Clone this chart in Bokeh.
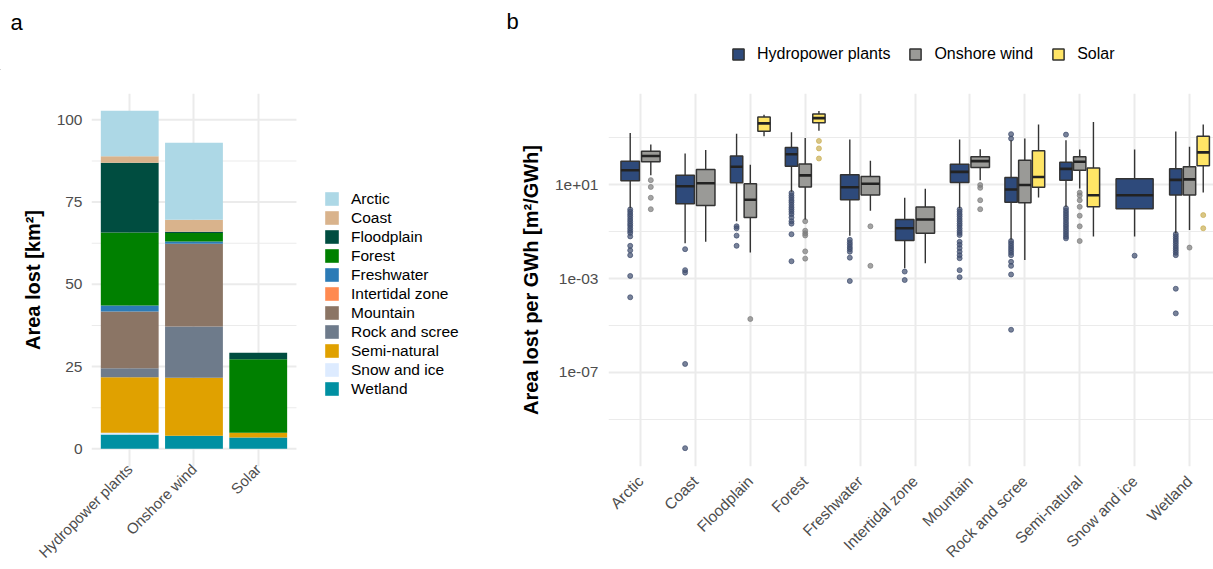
import math
from bokeh.plotting import figure
from bokeh.models import (Range1d, FixedTicker, Legend, LegendItem, Label,
                          ColumnDataSource, CustomJSTickFormatter)
from bokeh.layouts import row, column
from bokeh.embed import file_html
from bokeh.resources import INLINE

FONT = "Liberation Sans"
TICK_COLOR = "#4D4D4D"
GRID = "#EBEBEB"

# ---------------- data: panel a ----------------
techs = ["Hydropower plants", "Onshore wind", "Solar"]
habitats = ["Arctic", "Coast", "Floodplain", "Forest", "Freshwater", "Intertidal zone",
            "Mountain", "Rock and scree", "Semi-natural", "Snow and ice", "Wetland"]
habitat_colors = ["#ADD8E6", "#D9B38C", "#004D40", "#008000", "#2C7BB6", "#FF8A50",
                  "#8B7565", "#6E7B8B", "#E0A100", "#DDEBFF", "#0090A2"]
# area lost [km2], in habitat order
area_hydro = [13.8, 2.0, 21.2, 22.2, 1.8, 0.0, 17.3, 2.7, 16.9, 0.5, 4.35]
area_wind = [23.4, 3.6, 0.4, 2.6, 0.7, 0.0, 25.1, 15.6, 17.6, 0.0, 4.0]
area_solar = [0.0, 0.0, 2.0, 22.3, 0.0, 0.0, 0.0, 0.0, 1.5, 0.0, 3.4]
y_ticks_a = [0, 25, 50, 75, 100]
y_minor_a = [12.5, 37.5, 62.5, 87.5]

# ---------------- data: panel b ----------------
tech_colors = ["#2E4A7B", "#9A9A97", "#FFE566"]
outlier_colors = ["#3F4D6E", "#7E7E7E", "#C9AE52"]
box_cat = ["Arctic", "Arctic", "Coast", "Coast", "Floodplain", "Floodplain", "Floodplain",
           "Forest", "Forest", "Forest", "Freshwater", "Freshwater",
           "Intertidal zone", "Intertidal zone", "Mountain", "Mountain",
           "Rock and scree", "Rock and scree", "Rock and scree",
           "Semi-natural", "Semi-natural", "Semi-natural", "Snow and ice",
           "Wetland", "Wetland", "Wetland"]
box_tech = ["Hydropower plants", "Onshore wind", "Hydropower plants", "Onshore wind",
            "Hydropower plants", "Onshore wind", "Solar",
            "Hydropower plants", "Onshore wind", "Solar",
            "Hydropower plants", "Onshore wind", "Hydropower plants", "Onshore wind",
            "Hydropower plants", "Onshore wind",
            "Hydropower plants", "Onshore wind", "Solar",
            "Hydropower plants", "Onshore wind", "Solar", "Hydropower plants",
            "Hydropower plants", "Onshore wind", "Solar"]
box_lo = [1.0, 25.7, 0.032, 0.037, 0.28, 0.013, 1175, 5.0, 0.33, 2000, 0.068, 0.78,
          0.0028, 0.0045, 1.0, 15.8, 0.045, 0.0062, 2.9, 1.15, 6.9, 0.062, 0.062,
          0.085, 0.117, 4.7]
box_q1 = [14.8, 95.5, 1.55, 1.3, 12.3, 0.40, 1905, 61.7, 8.1, 4470, 2.3, 3.7,
          0.042, 0.085, 12.6, 55, 1.78, 1.7, 7.8, 15.8, 41.7, 1.15, 0.95,
          3.7, 3.7, 64.6]
box_med = [41.7, 170, 8.7, 11.7, 58.9, 2.3, 4170, 200, 25.1, 6920, 7.9, 11.0,
           0.14, 0.33, 35.5, 102, 6.3, 9.8, 21.4, 47.9, 95.5, 3.6, 3.6,
           16.2, 17.0, 240]
box_q3 = [102, 269, 25.7, 44.7, 170, 11.0, 7760, 389, 77.6, 10470, 26.9, 22.4,
          0.33, 1.12, 75.9, 155, 20.4, 110, 282, 91.2, 155, 52.5, 18.2,
          47.9, 58.9, 1175]
box_hi = [1620, 525, 214, 302, 1510, 70.8, 9770, 1740, 1000, 14125, 851, 105,
          2.8, 6.8, 851, 331, 794, 933, 3715, 794, 316, 4790, 316,
          1860, 417, 3715]
box_outliers = [
    [0.89, 0.71, 0.56, 0.45, 0.35, 0.28, 0.22, 0.18, 0.14, 0.11, 0.089, 0.063,
     0.025, 0.016, 0.01, 0.0013, 0.00016],
    [15.8, 8.1, 2.8, 0.91],
    [0.018, 0.0023, 0.0018, 2.3e-7, 5.9e-11],
    [],
    [0.17, 0.14, 0.068, 0.025],
    [1.9e-5],
    [],
    [4.5, 3.5, 2.8, 2.2, 1.8, 1.4, 1.1, 0.89, 0.71, 0.56, 0.40, 0.28, 0.22, 0.078, 0.0055],
    [0.28, 0.11, 0.085, 0.069, 0.0145, 0.0071],
    [741, 355, 132],
    [0.045, 0.035, 0.028, 0.022, 0.018, 0.014, 0.0078, 0.00079],
    [0.17, 0.0035],
    [0.002, 0.00087],
    [],
    [0.89, 0.71, 0.56, 0.45, 0.35, 0.28, 0.22, 0.18, 0.14, 0.11, 0.089, 0.072,
     0.037, 0.028, 0.02, 0.014, 0.01, 0.0074, 0.0023, 0.00115],
    [9.8, 7.4, 2.2, 0.91],
    [1445, 933, 0.04, 0.032, 0.025, 0.02, 0.016, 0.0126, 0.01, 0.0052, 0.0035, 0.0015, 6.6e-6],
    [],
    [],
    [1380, 1.0, 0.79, 0.63, 0.5, 0.4, 0.32, 0.25, 0.2, 0.16, 0.126, 0.1, 0.079, 0.063, 0.052],
    [4.6, 3.5, 2.2, 1.15, 0.48, 0.17, 0.04],
    [],
    [0.0095],
    [0.079, 0.063, 0.05, 0.04, 0.032, 0.025, 0.02, 0.016, 0.0126, 0.01, 0.00037, 3.3e-5],
    [0.021],
    [0.51, 0.14],
]
y_ticks_b = [1e-7, 1e-3, 1e1]
y_minor_b = [1e-9, 1e-5, 1e-1, 1e3]

HEADER_H = 70
FIG_H = 499
TOP_B = 23
BOTTOM_B = 103

# ================= header: panel letters and panel-b legend =================
p0 = figure(x_range=Range1d(0, 1213), y_range=Range1d(0, HEADER_H),
            width=1213, height=HEADER_H, min_border=0,
            x_axis_location=None, y_axis_location=None,
            output_backend="svg", toolbar_location=None)
p0.outline_line_color = None
p0.grid.visible = False
# legend proxies: one key glyph per technology, kept outside the visible header area
leg_rends = {}
for t, fc in zip(techs, tech_colors):
    leg_rends[t] = p0.vbar(x=[-100], width=1, top=[-100], bottom=[-101], fill_color=fc,
                           line_color="#333333", line_width=1.5)
leg_b = Legend(items=[LegendItem(label=t, renderers=[leg_rends[t]]) for t in techs],
               location=(731, 7), orientation="horizontal", padding=0, margin=0,
               spacing=18, glyph_width=14, glyph_height=14, label_height=14,
               label_standoff=12,
               label_text_font=FONT, label_text_font_size="16px",
               label_text_color="black", border_line_color=None,
               background_fill_alpha=0)
p0.add_layout(leg_b, "center")
p0.add_layout(Label(x=10, y=48.5, x_units="screen", y_units="screen", text="a",
                    text_font=FONT, text_font_size="22px", text_color="black",
                    text_baseline="alphabetic"))
p0.add_layout(Label(x=506, y=49.5, x_units="screen", y_units="screen", text="b",
                    text_font=FONT, text_font_size="22px", text_color="black",
                    text_baseline="alphabetic"))

# ================= panel a =================
XA_LO = -0.595                       # left end of the panel-a x range
XA_HI_GRID = len(techs) - 1 - XA_LO  # right end of the visible grid (symmetric)
p1 = figure(x_range=Range1d(XA_LO, 5.615), y_range=Range1d(-5.38, 108.0),
            width=498, height=FIG_H, min_border_left=91, min_border_right=8,
            min_border_top=TOP_B, min_border_bottom=BOTTOM_B,
            output_backend="svg", toolbar_location=None)
p1.outline_line_color = None
tech_x = list(range(len(techs)))
stack_order = habitats[::-1]
stack_colors = habitat_colors[::-1]
src_a = {"x": tech_x}
for i, h in enumerate(habitats):
    src_a[h] = [area_hydro[i], area_wind[i], area_solar[i]]
src_a = ColumnDataSource(src_a)

# horizontal grid limited to the bar area
p1.ygrid.grid_line_color = None
p1.ygrid.minor_grid_line_color = None
p1.segment(x0=[XA_LO] * len(y_minor_a), x1=[XA_HI_GRID] * len(y_minor_a),
           y0=y_minor_a, y1=y_minor_a, line_color=GRID, line_width=1.1)
p1.segment(x0=[XA_LO] * len(y_ticks_a), x1=[XA_HI_GRID] * len(y_ticks_a),
           y0=y_ticks_a, y1=y_ticks_a, line_color=GRID, line_width=2)

rends = p1.vbar_stack(stack_order, x="x", width=0.9, fill_color=stack_colors,
                      line_color=None, source=src_a)
rmap = dict(zip(stack_order, rends))

xta = FixedTicker(ticks=tech_x)
p1.xaxis.ticker = xta
p1.xgrid.ticker = xta
p1.xgrid.grid_line_color = GRID
p1.xgrid.grid_line_width = 2
p1.xaxis.major_label_overrides = {i: t for i, t in enumerate(techs)}
p1.xaxis.major_label_orientation = math.pi / 4
p1.xaxis.axis_line_color = None
p1.xaxis.major_tick_line_color = None
p1.xaxis.minor_tick_line_color = None
p1.xaxis.major_tick_out = 0
p1.xaxis.minor_tick_out = 0
p1.xaxis.major_label_standoff = 0
p1.xaxis.major_label_text_font = FONT
p1.xaxis.major_label_text_font_size = "15px"
p1.xaxis.major_label_text_color = TICK_COLOR

yt = FixedTicker(ticks=y_ticks_a, minor_ticks=y_minor_a)
p1.yaxis.ticker = yt
p1.yaxis.axis_line_color = None
p1.yaxis.major_tick_line_color = None
p1.yaxis.minor_tick_line_color = None
p1.yaxis.major_tick_out = 0
p1.yaxis.minor_tick_out = 0
p1.yaxis.major_label_standoff = 9
p1.yaxis.major_label_text_font = FONT
p1.yaxis.major_label_text_font_size = "15.5px"
p1.yaxis.major_label_text_color = TICK_COLOR
p1.yaxis.axis_label = "Area lost [km\u00b2]"
p1.yaxis.axis_label_text_font = FONT
p1.yaxis.axis_label_text_font_size = "20px"
p1.yaxis.axis_label_text_font_style = "bold"
p1.yaxis.axis_label_text_color = "black"
p1.yaxis.axis_label_standoff = 10

leg_a = Legend(items=[LegendItem(label=h, renderers=[rmap[h]]) for h in habitats],
               location=(232, 68.5), orientation="vertical", padding=0, margin=0,
               spacing=1, glyph_width=17, glyph_height=17, label_height=17,
               label_standoff=11,
               label_text_font=FONT, label_text_font_size="15.5px",
               label_text_color="black", border_line_color=None,
               background_fill_alpha=0)
p1.add_layout(leg_a, "center")

# ================= panel b =================
p2 = figure(x_range=Range1d(-0.583, 10.437), y_range=Range1d(10 ** -11.01, 10 ** 4.892),
            y_axis_type="log",
            width=715, height=FIG_H, min_border_left=110, min_border_right=0,
            min_border_top=TOP_B, min_border_bottom=BOTTOM_B,
            output_backend="svg", toolbar_location=None)
p2.outline_line_color = None

cat_x = list(range(len(habitats)))
cat_index = {h: i for i, h in enumerate(habitats)}
counts = {}
for c in box_cat:
    counts[c] = counts.get(c, 0) + 1
seen = {}
box_x, box_w = [], []
for c in box_cat:
    k = seen.get(c, 0)
    seen[c] = k + 1
    n = counts[c]
    slot = 0.75 / n
    box_x.append(cat_index[c] - 0.375 + slot * (k + 0.5))
    box_w.append(slot * 0.9)

for t, fc, oc in zip(techs, tech_colors, outlier_colors):
    idx = [i for i, bt in enumerate(box_tech) if bt == t]
    src = ColumnDataSource(dict(
        x=[box_x[i] for i in idx], w=[box_w[i] for i in idx],
        x0=[box_x[i] - box_w[i] / 2 for i in idx], x1=[box_x[i] + box_w[i] / 2 for i in idx],
        lo=[box_lo[i] for i in idx], q1=[box_q1[i] for i in idx],
        med=[box_med[i] for i in idx], q3=[box_q3[i] for i in idx],
        hi=[box_hi[i] for i in idx]))
    ox, oy = [], []
    for i in idx:
        for v in box_outliers[i]:
            ox.append(box_x[i])
            oy.append(v)
    p2.scatter(ox, oy, size=5, fill_color=oc, line_color=oc, fill_alpha=0.7, line_alpha=0.7)
    p2.segment(x0="x", y0="lo", x1="x", y1="hi", source=src, line_color="#333333",
               line_width=1.4)
    p2.vbar(x="x", width="w", top="q3", bottom="q1", source=src, fill_color=fc,
            line_color="#333333", line_width=1.5)
    p2.segment(x0="x0", y0="med", x1="x1", y1="med", source=src, line_color="#222222",
               line_width=2.6)

xt = FixedTicker(ticks=cat_x)
p2.xaxis.ticker = xt
p2.xgrid.ticker = xt
p2.xgrid.grid_line_color = GRID
p2.xgrid.grid_line_width = 2
p2.xaxis.major_label_overrides = {i: h for i, h in enumerate(habitats)}
p2.xaxis.major_label_orientation = math.pi / 4
p2.xaxis.axis_line_color = None
p2.xaxis.major_tick_line_color = None
p2.xaxis.minor_tick_line_color = None
p2.xaxis.major_tick_out = 0
p2.xaxis.minor_tick_out = 0
p2.xaxis.major_label_standoff = 12
p2.xaxis.major_label_text_font = FONT
p2.xaxis.major_label_text_font_size = "15.5px"
p2.xaxis.major_label_text_color = TICK_COLOR

ytb = FixedTicker(ticks=y_ticks_b, minor_ticks=y_minor_b)
p2.yaxis.ticker = ytb
p2.ygrid.ticker = ytb
p2.yaxis.formatter = CustomJSTickFormatter(code="""
const e = Math.round(Math.log10(tick));
const a = Math.abs(e);
return "1e" + (e < 0 ? "-" : "+") + (a < 10 ? "0" : "") + a;
""")
p2.ygrid.grid_line_color = GRID
p2.ygrid.grid_line_width = 2
p2.ygrid.minor_grid_line_color = GRID
p2.ygrid.minor_grid_line_width = 1.1
p2.yaxis.axis_line_color = None
p2.yaxis.major_tick_line_color = None
p2.yaxis.minor_tick_line_color = None
p2.yaxis.major_tick_out = 0
p2.yaxis.minor_tick_out = 0
p2.yaxis.major_label_standoff = 10
p2.yaxis.major_label_text_font = FONT
p2.yaxis.major_label_text_font_size = "15.5px"
p2.yaxis.major_label_text_color = TICK_COLOR
p2.yaxis.axis_label = "Area lost per GWh [m\u00b2/GWh]"
p2.yaxis.axis_label_text_font = FONT
p2.yaxis.axis_label_text_font_size = "20px"
p2.yaxis.axis_label_text_font_style = "bold"
p2.yaxis.axis_label_text_color = "black"
p2.yaxis.axis_label_standoff = 10

layout = column(p0, row(p1, p2, spacing=0), spacing=0)
open("out.html", "w").write(file_html(layout, INLINE))
